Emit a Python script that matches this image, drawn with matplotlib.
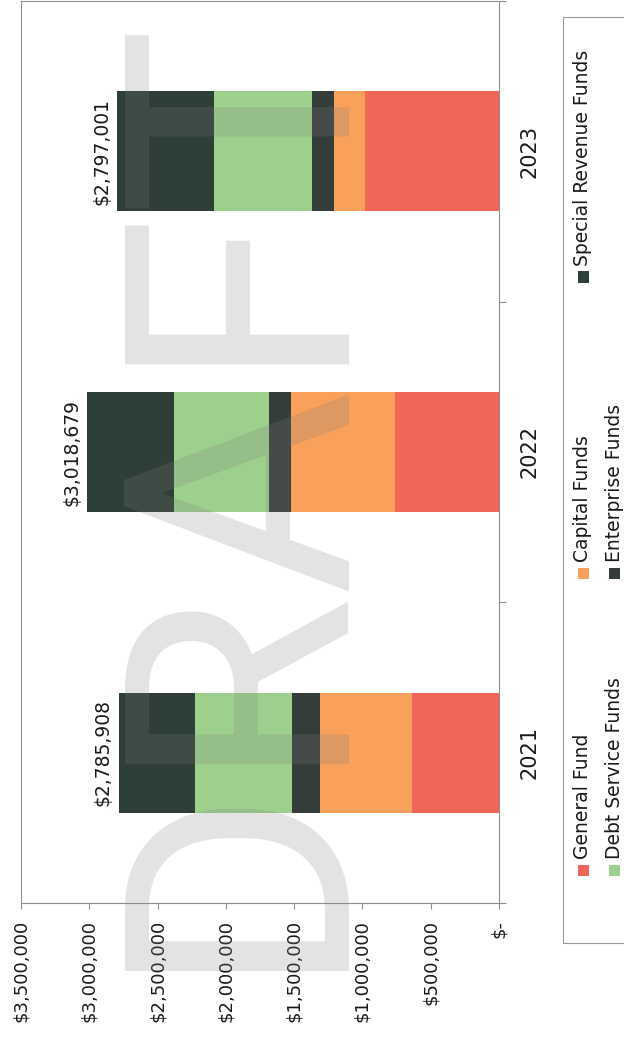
import numpy as np
import matplotlib.pyplot as plt
from matplotlib.patches import Rectangle

# page size in pixels (saved at 100 dpi)
W, H = 624, 1043

years = ['2021', '2022', '2023']
general_fund = [639000, 763000, 979000]
capital_funds = [673000, 760000, 229000]
enterprise_funds = [205000, 159000, 160000]
debt_service_funds = [707000, 700000, 721000]
special_revenue_funds = [561908, 636679, 708001]

value_ticks = [0, 500000, 1000000, 1500000, 2000000, 2500000, 3000000, 3500000]
value_labels = ['$-', '$500,000', '$1,000,000', '$1,500,000', '$2,000,000',
                '$2,500,000', '$3,000,000', '$3,500,000']

RED = '#f2665a'
ORANGE = '#f9a05a'
GREEN = '#9dd08c'
DARK = '#2e3f37'
DARK2 = '#343d3a'
AXIS_GREY = '#8f8f8f'

stack = [
    ('General Fund', general_fund, RED),
    ('Capital Funds', capital_funds, ORANGE),
    ('Enterprise Funds', enterprise_funds, DARK2),
    ('Debt Service Funds', debt_service_funds, GREEN),
    ('Special Revenue Funds', special_revenue_funds, DARK),
]


def px(x, y):
    # pixel position (from top-left) -> figure fraction
    return x / W, 1 - y / H


fig = plt.figure(figsize=(W / 100, H / 100), dpi=100)
fig.patch.set_facecolor('white')
ax = fig.add_axes([21 / W, 1 - 903 / H, 478 / W, 902 / H])

pos = np.arange(len(years))
left = np.zeros(len(years))
for name, vals, col in stack:
    ax.barh(pos, vals, height=0.4, left=left, color=col, zorder=2, linewidth=0)
    left += np.array(vals)

# totals at the end of each stack
for p, total in zip(pos, left):
    ax.annotate(f'${total:,.0f}', (total, p), xytext=(-4, 0),
                textcoords='offset points', rotation=90, ha='right',
                va='center', fontsize=13.5, color='#1a1a1a')

ax.set_xlim(3500000, 0)
ax.set_ylim(-0.5, 2.5)

ax.set_xticks(value_ticks)
ax.set_xticklabels(value_labels, rotation=90, fontsize=13, color='#1a1a1a')
ax.tick_params(axis='x', direction='out', length=4, width=0.8,
               color=AXIS_GREY, pad=8)

ax.yaxis.tick_right()
ax.set_yticks(pos)
ax.set_yticklabels(years, rotation=90, va='center', fontsize=15, color='#1a1a1a')
ax.tick_params(axis='y', which='major', length=0, pad=15)
ax.set_yticks([-0.5, 0.5, 1.5, 2.5], minor=True)
ax.tick_params(axis='y', which='minor', direction='out', length=5,
               width=0.8, color=AXIS_GREY)

for s in ax.spines.values():
    s.set_color(AXIS_GREY)
    s.set_linewidth(0.8)

# legend box along the right edge
x0, y0 = px(563, 943)
fig.add_artist(Rectangle((x0, y0), (W - 563 + 5) / W, (943 - 17) / H,
                         transform=fig.transFigure, fill=False,
                         edgecolor='#9a9a9a', linewidth=0.8))

legend_items = [
    ('General Fund', RED, 0, 0),
    ('Capital Funds', ORANGE, 0, 1),
    ('Special Revenue Funds', DARK, 0, 2),
    ('Debt Service Funds', GREEN, 1, 0),
    ('Enterprise Funds', DARK2, 1, 1),
]
row_x = [583, 614]
col_y = [870, 573, 277]
for label, col, r, c in legend_items:
    mx, my = row_x[r], col_y[c]
    rx, ry = px(mx - 5.5, my + 5.5)
    fig.add_artist(Rectangle((rx, ry), 11 / W, 11 / H,
                             transform=fig.transFigure, facecolor=col,
                             edgecolor='none'))
    tx, ty = px(mx, my - 11)
    fig.text(tx, ty, label, rotation=90, ha='center', va='bottom',
             fontsize=13.5, color='#1a1a1a')

# DRAFT watermark over the chart
wx, wy = px(324, 486)
fig.text(wx, wy, 'DRAFT', rotation=90, rotation_mode='anchor',
         ha='center', va='baseline', fontsize=227,
         family='Roboto', color='#7f7f7f', alpha=0.22, zorder=5)

fig.savefig('out.png', dpi=100, facecolor='white')
